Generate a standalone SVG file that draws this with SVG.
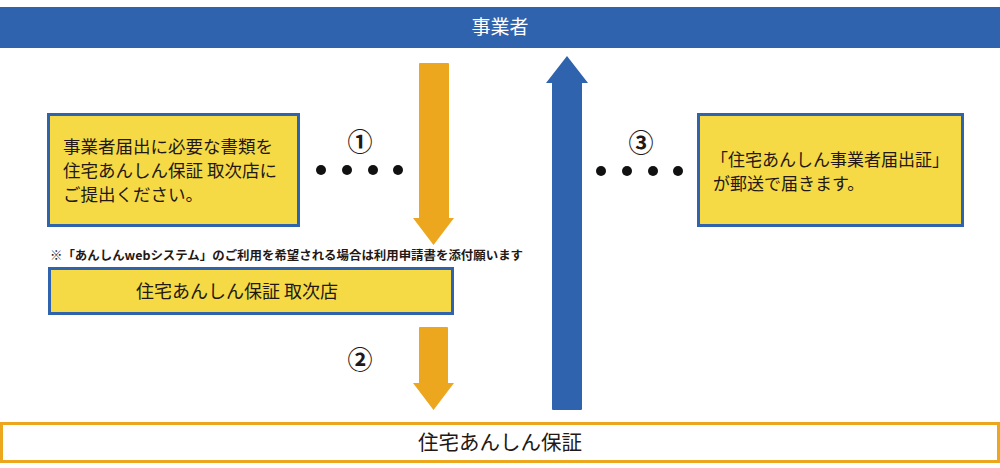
<svg xmlns="http://www.w3.org/2000/svg" width="1000" height="468" viewBox="0 0 1000 468">
<style>
text{font-family:"Noto Sans CJK JP","Noto Sans",sans-serif;fill:#231815}
.box{fill:#f5da45;stroke:#3063ae;stroke-width:3}
.t16{font-size:17.5px}
.num{font-size:25px;text-anchor:middle;font-weight:bold}
.dot{fill:#111}
</style>
<rect width="1000" height="468" fill="#fff"/>
<g id="jigyosha">
<rect x="0" y="7" width="1000" height="41" fill="#3063ae"/>
<text x="500" y="34" font-size="19" text-anchor="middle" style="fill:#fff">事業者</text>
</g>
<g id="box-submit">
<rect class="box" x="48.5" y="114.5" width="250" height="111"/>
<text class="t16" x="63" y="153">事業者届出に必要な書類を</text>
<text class="t16" x="63" y="177">住宅あんしん保証 取次店に</text>
<text class="t16" x="63" y="201">ご提出ください。</text>
</g>
<g id="note">
<text x="50" y="260" font-size="12" font-weight="bold" textLength="473" lengthAdjust="spacingAndGlyphs">※「あんしんwebシステム」のご利用を希望される場合は利用申請書を添付願います</text>
</g>
<g id="box-agent">
<rect class="box" x="49.5" y="268.5" width="403" height="45"/>
<text x="237" y="298" font-size="18" text-anchor="middle">住宅あんしん保証 取次店</text>
</g>
<g id="box-cert">
<rect class="box" x="698.5" y="114.5" width="264" height="111"/>
<text class="t16" x="711" y="166" style="font-size:17px">「住宅あんしん事業者届出証」</text>
<text class="t16" x="713" y="190" style="font-size:17px">が郵送で届きます。</text>
</g>
<g id="hosho">
<rect x="1.5" y="423.5" width="997" height="38" fill="#fff" stroke="#eca71e" stroke-width="3"/>
<text x="500" y="450" font-size="20.5" text-anchor="middle">住宅あんしん保証</text>
</g>
<g id="connectors">
<path d="M419,64 Q419,63 420,63 H448 Q449,63 449,64 V218 H454 L433.5,245 L413,218 H419 Z" fill="#eca71e"/>
<path d="M419,328 Q419,327 420,327 H447 Q448,327 448,328 V383 H454 L433.5,410 L413,383 H419 Z" fill="#eca71e"/>
<path d="M552,409 V83 H546 L567,56 L588,83 H582 V409 Q582,410 581,410 H553 Q552,410 552,409 Z" fill="#3063ae"/>
<text class="num" x="360" y="151">①</text>
<circle class="dot" cx="321" cy="170" r="5"/>
<circle class="dot" cx="347" cy="170" r="5"/>
<circle class="dot" cx="373" cy="170" r="5"/>
<circle class="dot" cx="398" cy="170" r="5"/>
<text class="num" x="360" y="369">②</text>
<text class="num" x="641" y="152">③</text>
<circle class="dot" cx="601" cy="171" r="5"/>
<circle class="dot" cx="627" cy="171" r="5"/>
<circle class="dot" cx="653" cy="171" r="5"/>
<circle class="dot" cx="678" cy="171" r="5"/>
</g>
</svg>
